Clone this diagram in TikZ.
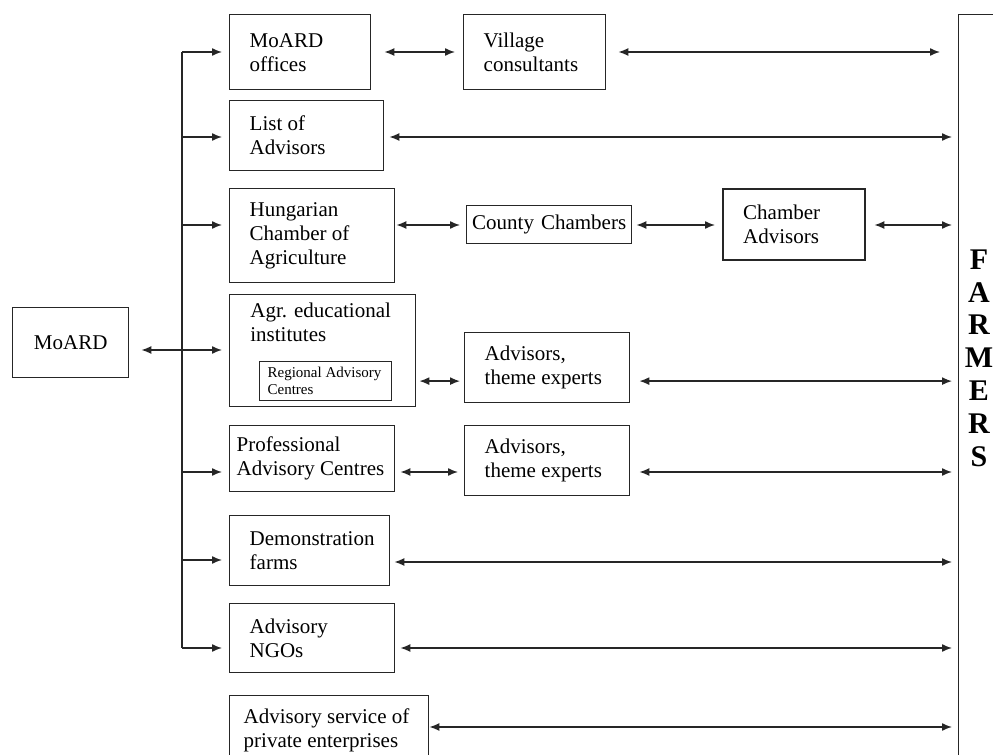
\documentclass[tikz,border=0pt]{standalone}
\usepackage{fontspec}
\setmainfont{Liberation Serif}
\usetikzlibrary{arrows.meta, positioning, calc}

\begin{document}
\begin{tikzpicture}[
  x=0.5pt, y=-0.5pt,
  font=\fontsize{10.5}{12}\selectfont,
  >={Latex[length=5pt, width=4pt]},
  box/.style={draw=black!85, line width=0.7pt, anchor=north west,
              align=flush left, inner xsep=10pt, inner ysep=1pt},
  smallbox/.style={draw=black!85, line width=0.6pt, anchor=north west,
                   align=flush left, inner xsep=4pt, inner ysep=0pt,
                   font=\fontsize{7.5}{8.5}\selectfont},
  arr/.style={->, line width=0.7pt, draw=black!85, shorten >=3.5pt},
  both/.style={<->, line width=0.7pt, draw=black!85,
               shorten <=2.5pt, shorten >=3pt}
]
\useasboundingbox (0,0) rectangle (993,755);
\clip (0,0) rectangle (993,755);

\node[box, align=center, inner xsep=2pt, text width=54pt,
      minimum height=35pt] (moard) at (12,307) {MoARD};

\node[box, text width=50.5pt, minimum height=37.5pt] (off)  at (229,14)  {MoARD\\offices};
\node[box, text width=51pt,   minimum height=37.5pt] (vil)  at (463,14)  {Village\\consultants};
\node[box, text width=57pt,   minimum height=35pt]   (list) at (229,100) {List of\\Advisors};
\node[box, text width=62.5pt, minimum height=47pt]   (hca)  at (229,188) {Hungarian\\Chamber of\\Agriculture};
\node[box, align=center, inner xsep=2pt, text width=78.5pt,
      minimum height=19pt] (cc) at (466,205) {County Chambers};
\node[box, text width=51pt, minimum height=35.5pt,
      line width=1.2pt] (cadv) at (722,188) {Chamber\\Advisors};

\node[box, text width=73pt, minimum height=56pt,
      label={[align=flush left, anchor=north west, inner sep=0pt,
              xshift=10.5pt, yshift=-4.5pt]north west:Agr. educational\\institutes}]
      (agr) at (229,294) {};
\node[smallbox, text width=58pt, minimum height=19.5pt] (rac) at (259,361) {Regional Advisory\\Centres};
\node[box, text width=62.5pt, minimum height=35pt]   (adv1) at (464,332) {Advisors,\\theme experts};

\node[box, inner xsep=3.5pt, text width=75.5pt,
      minimum height=33pt] (pac) at (229,425) {Professional\\Advisory Centres};
\node[box, text width=62.5pt, minimum height=35pt]   (adv2) at (464,425) {Advisors,\\theme experts};
\node[box, text width=60pt,   minimum height=35pt]   (demo) at (229,515) {Demonstration\\farms};
\node[box, text width=62.5pt, minimum height=34.5pt] (ngo)  at (229,603) {Advisory\\NGOs};
\node[box, inner xsep=7pt, text width=85.5pt,
      minimum height=35pt] (priv) at (229,695) {Advisory service of\\private enterprises};

\node[draw=black!85, line width=0.7pt, anchor=north west, minimum width=40pt,
      minimum height=400pt] (farm) at (958,14) {};
\node[font=\fontsize{15}{16.4}\selectfont\bfseries, align=center]
      (farmtxt) at (979,358) {F\\A\\R\\M\\E\\R\\S};

%% trunk from MoARD to the providers
\coordinate (t1) at (182,52);
\coordinate (t2) at (182,137);
\coordinate (t3) at (182,225);
\coordinate (t4) at (182,350);
\coordinate (t5) at (182,472);
\coordinate (t6) at (182,560);
\coordinate (t7) at (182,648);

\draw[line width=0.7pt, black!85] (t1) -- (t7);
\draw[arr] (t1) -- (t1 -| off.west);
\draw[arr] (t2) -- (t2 -| list.west);
\draw[arr] (t3) -- (t3 -| hca.west);
\draw[arr] (t5) -- (t5 -| pac.west);
\draw[arr] (t6) -- (t6 -| demo.west);
\draw[arr] (t7) -- (t7 -| ngo.west);
\draw[both, shorten <=6pt, shorten >=3.5pt] (moard.east |- t4) -- (t4 -| agr.west);

%% links towards the farmers
\draw[both, shorten <=6.5pt, shorten >=4pt] (off.east |- t1) -- (t1 -| vil.west);
\draw[both, shorten <=6pt, shorten >=9pt]   (vil.east |- t1) -- (t1 -| farm.west);
\draw[both] (list.east |- t2) -- (t2 -| farm.west);
\draw[both, shorten <=0.5pt] (hca.east |- t3) -- (t3 -| cc.west);
\draw[both, shorten <=2pt, shorten >=3.5pt] (cc.east |- t3) -- (t3 -| cadv.west);
\draw[both, shorten <=4pt] (cadv.east |- t3) -- (t3 -| farm.west);
\draw[both, shorten <=1.5pt, shorten >=2pt] (agr.east |- rac) -- (adv1.west |- rac);
\draw[both, shorten <=4.5pt] (adv1.east |- rac) -- (farm.west |- rac);
\draw[both] (pac.east |- t5) -- (t5 -| adv2.west);
\draw[both, shorten <=4.5pt] (adv2.east |- t5) -- (t5 -| farm.west);
\draw[both, shorten <=2pt] (demo.east |- 0,562) -- (farm.west |- 0,562);
\draw[both] (ngo.east |- t7) -- (t7 -| farm.west);
\draw[both, shorten <=0pt] (priv.east |- 0,727) -- (farm.west |- 0,727);

\end{tikzpicture}
\end{document}
